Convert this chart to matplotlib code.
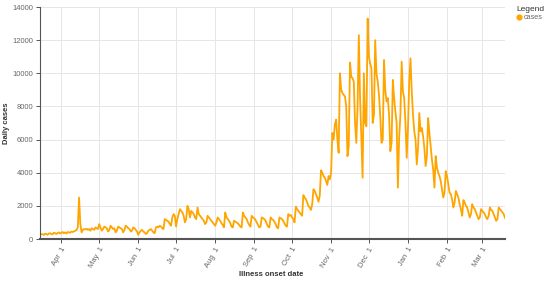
import matplotlib.pyplot as plt
import matplotlib.dates as mdates
from matplotlib.lines import Line2D
import numpy as np
import pandas as pd

plt.rcParams["font.family"] = ["Liberation Sans", "DejaVu Sans"]

start_date = "2020-03-15"

mar20 = [250, 300, 280, 250, 320, 300, 260, 330, 350, 300, 280, 380, 350, 300, 360, 400, 330]
apr20 = [380, 420, 350, 400, 330, 420, 400, 380, 450, 420, 460, 500, 550,
         700, 2500, 900, 400,
         550, 600, 580, 620, 550, 600, 500, 650, 600, 550, 700, 650, 600]
may20 = [900, 700, 500, 600, 750, 700, 650, 450, 550, 800, 700, 600, 650, 400, 500, 750,
         700, 650, 600, 400, 550, 800, 750, 650, 600, 450, 500, 700, 650, 550, 450]
jun20 = [250, 400, 500, 550, 450, 400, 300, 350, 500, 550, 600, 500, 400, 350, 700,
         750, 700, 800, 750, 650, 600, 1200, 1150, 1100, 1050, 900, 800, 1300, 1500, 1400]
jul20 = [750, 1200, 1500, 1800, 1700, 1600, 1400, 1000, 1200, 2000, 1800, 1300, 1700, 1600, 1500,
         1300, 1200, 1900, 1500, 1400, 1300, 1200, 1100, 900, 1000, 1400, 1300, 1200, 1100, 1000, 900]
aug20 = [800, 1000, 1300, 1200, 1100, 950, 850, 700, 1600, 1300, 1200, 1100, 950, 750, 700, 1100,
         1050, 1000, 950, 850, 750, 700, 1600, 1400, 1300, 1200, 1000, 850, 750, 1400, 1300]
sep20 = [1250, 1150, 1000, 850, 700, 750, 1300, 1250, 1200, 1100, 900, 750, 700, 1300, 1200,
         1150, 1050, 900, 700, 650, 1300, 1250, 1200, 1100, 950, 800, 750, 1500, 1400, 1450]
oct20 = [1300, 1200, 1000, 1950, 1800, 1700, 1600, 1500, 1400, 2650, 2500, 2400, 2200, 2000, 1900,
         1750, 2100, 3000, 2900, 2700, 2500, 2250, 2600, 4150, 4000, 3800, 3700, 3500, 3260, 3800, 3600]
nov20 = [4000, 6400, 6000, 6900, 7200, 6000, 5200, 10000, 9000, 8800, 8700, 8600, 8000, 5000, 5600,
         10650, 9800, 9700, 9500, 7000, 5800, 8000, 12300, 8500, 6000, 3700, 10000, 7000, 6800, 13300]
dec20 = [11000, 10600, 10300, 7000, 7500, 12000, 10000, 9500, 8700, 7400, 5800, 6000, 10800, 9000, 8300,
         8500, 7500, 5300, 5800, 9600, 8500, 7700, 7000, 3100, 6100, 7500, 10700, 8900, 8500, 7000, 4900]
jan21 = [6700, 9500, 10900, 8900, 7500, 6500, 6000, 4500, 5500, 7600, 6500, 6700, 6200, 5500, 4400,
         5000, 7300, 6400, 5600, 4800, 4200, 3100, 5000, 4300, 4000, 3800, 3500, 3000, 2500, 2800, 4100]
feb21 = [3800, 3300, 2800, 2700, 2400, 1900, 2200, 2900, 2700, 2500, 2100, 1800, 1400, 2350,
         2200, 2000, 1900, 1600, 1300, 1500, 2100, 1900, 1800, 1600, 1400, 1200, 1300, 1800]
mar21 = [1700, 1600, 1500, 1300, 1200, 1400, 1900, 1750, 1700, 1500, 1300, 1100, 1200, 1900,
         1800, 1700, 1600, 1500, 1270]

cases = mar20 + apr20 + may20 + jun20 + jul20 + aug20 + sep20 + oct20 + nov20 + dec20 + jan21 + feb21 + mar21
dates = pd.date_range(start_date, periods=len(cases), freq="D")

grey = "#666666"

fig = plt.figure(figsize=(5.5, 2.81), dpi=100)
ax = fig.add_axes([40 / 550, 42 / 281, 465 / 550, 232 / 281])

ax.plot(dates, cases, color="#FFA500", lw=1.3)

ax.set_xlim(dates[0], dates[-1])
ax.set_ylim(0, 14000)
ax.set_yticks(np.arange(0, 14001, 2000))
ax.xaxis.set_major_locator(mdates.MonthLocator())
ax.xaxis.set_major_formatter(mdates.DateFormatter("%b %e"))

ax.grid(True, color="#e6e6e6", lw=0.7)
ax.set_axisbelow(True)
for s in ["top", "right"]:
    ax.spines[s].set_visible(False)
ax.spines["left"].set_color("#555555")
ax.spines["bottom"].set_color("#555555")
ax.spines["bottom"].set_linewidth(1.5)
ax.tick_params(axis="both", colors="#555555", labelcolor=grey, labelsize=5.5, length=3, width=0.7)
ax.tick_params(axis="y", pad=2)
ax.tick_params(axis="x", pad=2)
plt.setp(ax.get_xticklabels(), rotation=60, ha="right", rotation_mode="anchor")

fig.text(7 / 550, 1 - 123 / 281, "Daily cases", rotation=90, ha="center", va="center",
         fontsize=5.5, fontweight="bold", color="#333333")
fig.text(271 / 550, 1 - 275 / 281, "Illness onset date", ha="center", va="center",
         fontsize=5.5, fontweight="bold", color="#333333")

handle = Line2D([], [], marker="o", ls="", color="#FFA500", markersize=3.5)
leg = fig.legend([handle], ["cases"], loc="upper left", bbox_to_anchor=(0.937, 0.985),
                 title="Legend", frameon=False, fontsize=5.2, title_fontsize=6,
                 handlelength=0.5, handletextpad=0.5, borderpad=0.2, labelspacing=0.2,
                 borderaxespad=0)
leg._legend_box.align = "left"
leg.get_title().set_color("#333333")
for t in leg.get_texts():
    t.set_color(grey)

fig.savefig("out.png", dpi=100)
